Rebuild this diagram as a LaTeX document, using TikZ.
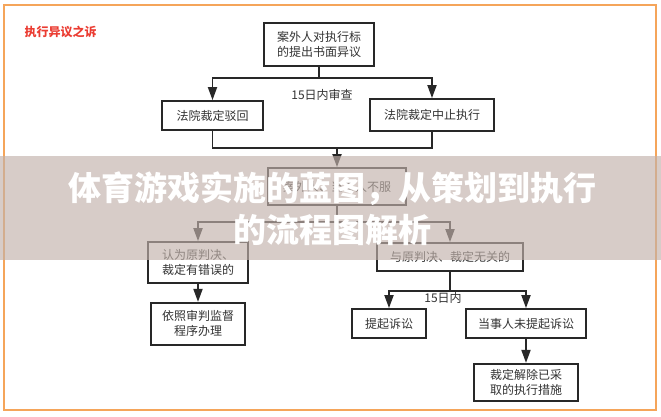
\documentclass[tikz,border=0pt]{standalone}
\usepackage{fontspec}
\newfontfamily\cjk{Noto Sans CJK SC}
\usetikzlibrary{arrows.meta, positioning}
\definecolor{framecol}{RGB}{245,165,90}
\definecolor{linecol}{RGB}{40,40,40}
\definecolor{titlered}{RGB}{235,60,50}
\definecolor{bandcol}{RGB}{194,178,171}
\tikzset{
    flowbox/.style={rectangle, draw=linecol, line width=1.8pt, fill=white, text=black!80, align=center, inner sep=1pt, font=\cjk\fontsize{12}{15}\selectfont},
    line/.style={draw=linecol, line width=1.8pt},
    arrow/.style={-{Triangle[length=13pt,width=9pt]}, draw=linecol, line width=1.8pt},
    lbl/.style={font=\cjk\fontsize{12}{14}\selectfont, text=black!80}
}

\begin{document}
\begin{tikzpicture}[x=1pt, y=-1pt]
			\useasboundingbox (0,0) rectangle (661,416);
			\fill[white] (0,0) rectangle (661,416);
			\draw[framecol, line width=2pt] (4,5) rectangle (656,410);
			\node (title) [anchor=west, font=\cjk\bfseries\fontsize{12}{14}\selectfont, text=titlered] at (21,32) {执行异议之诉};

			\node (top) [flowbox, minimum width=110pt, minimum height=43pt] at (319,44.5) {案外人对执行标\\的提出书面异议};
			\node (bohui) [flowbox, minimum width=101pt, minimum height=29pt] at (212.5,115.5) {法院裁定驳回};
			\node (zhongzhi) [flowbox, minimum width=124pt, minimum height=32pt] at (432,115) {法院裁定中止执行};
			\node (bufu) [flowbox, minimum width=138pt, minimum height=37pt] at (337,186.5) {案外人、当事人不服};
			\node (cuowu) [flowbox, minimum width=100pt, minimum height=41pt] at (198,262.5) {认为原判决、\\裁定有错误的};
			\node (wuguan) [flowbox, minimum width=146pt, minimum height=28pt] at (450,257) {与原判决、裁定无关的};
			\node (yizhao) [flowbox, below=18pt of cuowu, minimum width=94pt, minimum height=42pt] {依照审判监督\\程序办理};
			\node (susong) [flowbox, minimum width=74pt, minimum height=29pt] at (389,323.5) {提起诉讼};
			\node (weisu) [flowbox, minimum width=120pt, minimum height=29pt] at (526,323.5) {当事人未提起诉讼};
			\node (jiechu) [flowbox, below=24pt of weisu, minimum width=104pt, minimum height=37pt] {裁定解除已采\\取的执行措施};

			\coordinate (s1) at (319,78);
			\coordinate (m1) at (337,148);
			\coordinate (s2) at (337,222);
			\coordinate (s3) at (450,291);

			\draw [line] (top) -- (s1);
			\draw [arrow] (s1) -| (bohui);
			\draw [arrow] (s1) -| (zhongzhi);
			\node (lbl1) [lbl] at (322,95) {15日内审查};

			\draw [line] (bohui) |- (m1) -| (zhongzhi);
			\draw [arrow] (m1) -- (bufu);

			\draw [line] (bufu) -- (s2);
			\draw [arrow] (s2) -| (cuowu);
			\draw [arrow] (s2) -| (wuguan);
			\draw [arrow] (cuowu) -- (yizhao);

			\draw [line] (wuguan) -- (s3);
			\draw [arrow] (s3) -| (susong);
			\draw [arrow] (s3) -| (weisu);
			\node (lbl2) [lbl] at (443,298) {15日内};
			\draw [arrow] (weisu) -- (jiechu);

			% banner over the chart
			\fill[bandcol, opacity=0.65] (0,156) rectangle (661,260);
			\node (banner) [font=\cjk\bfseries\fontsize{33}{42}\selectfont, text=white, align=center] at (332,209) {体育游戏实施的蓝图，从策划到执行\\的流程图解析};
		\end{tikzpicture}
\end{document}
